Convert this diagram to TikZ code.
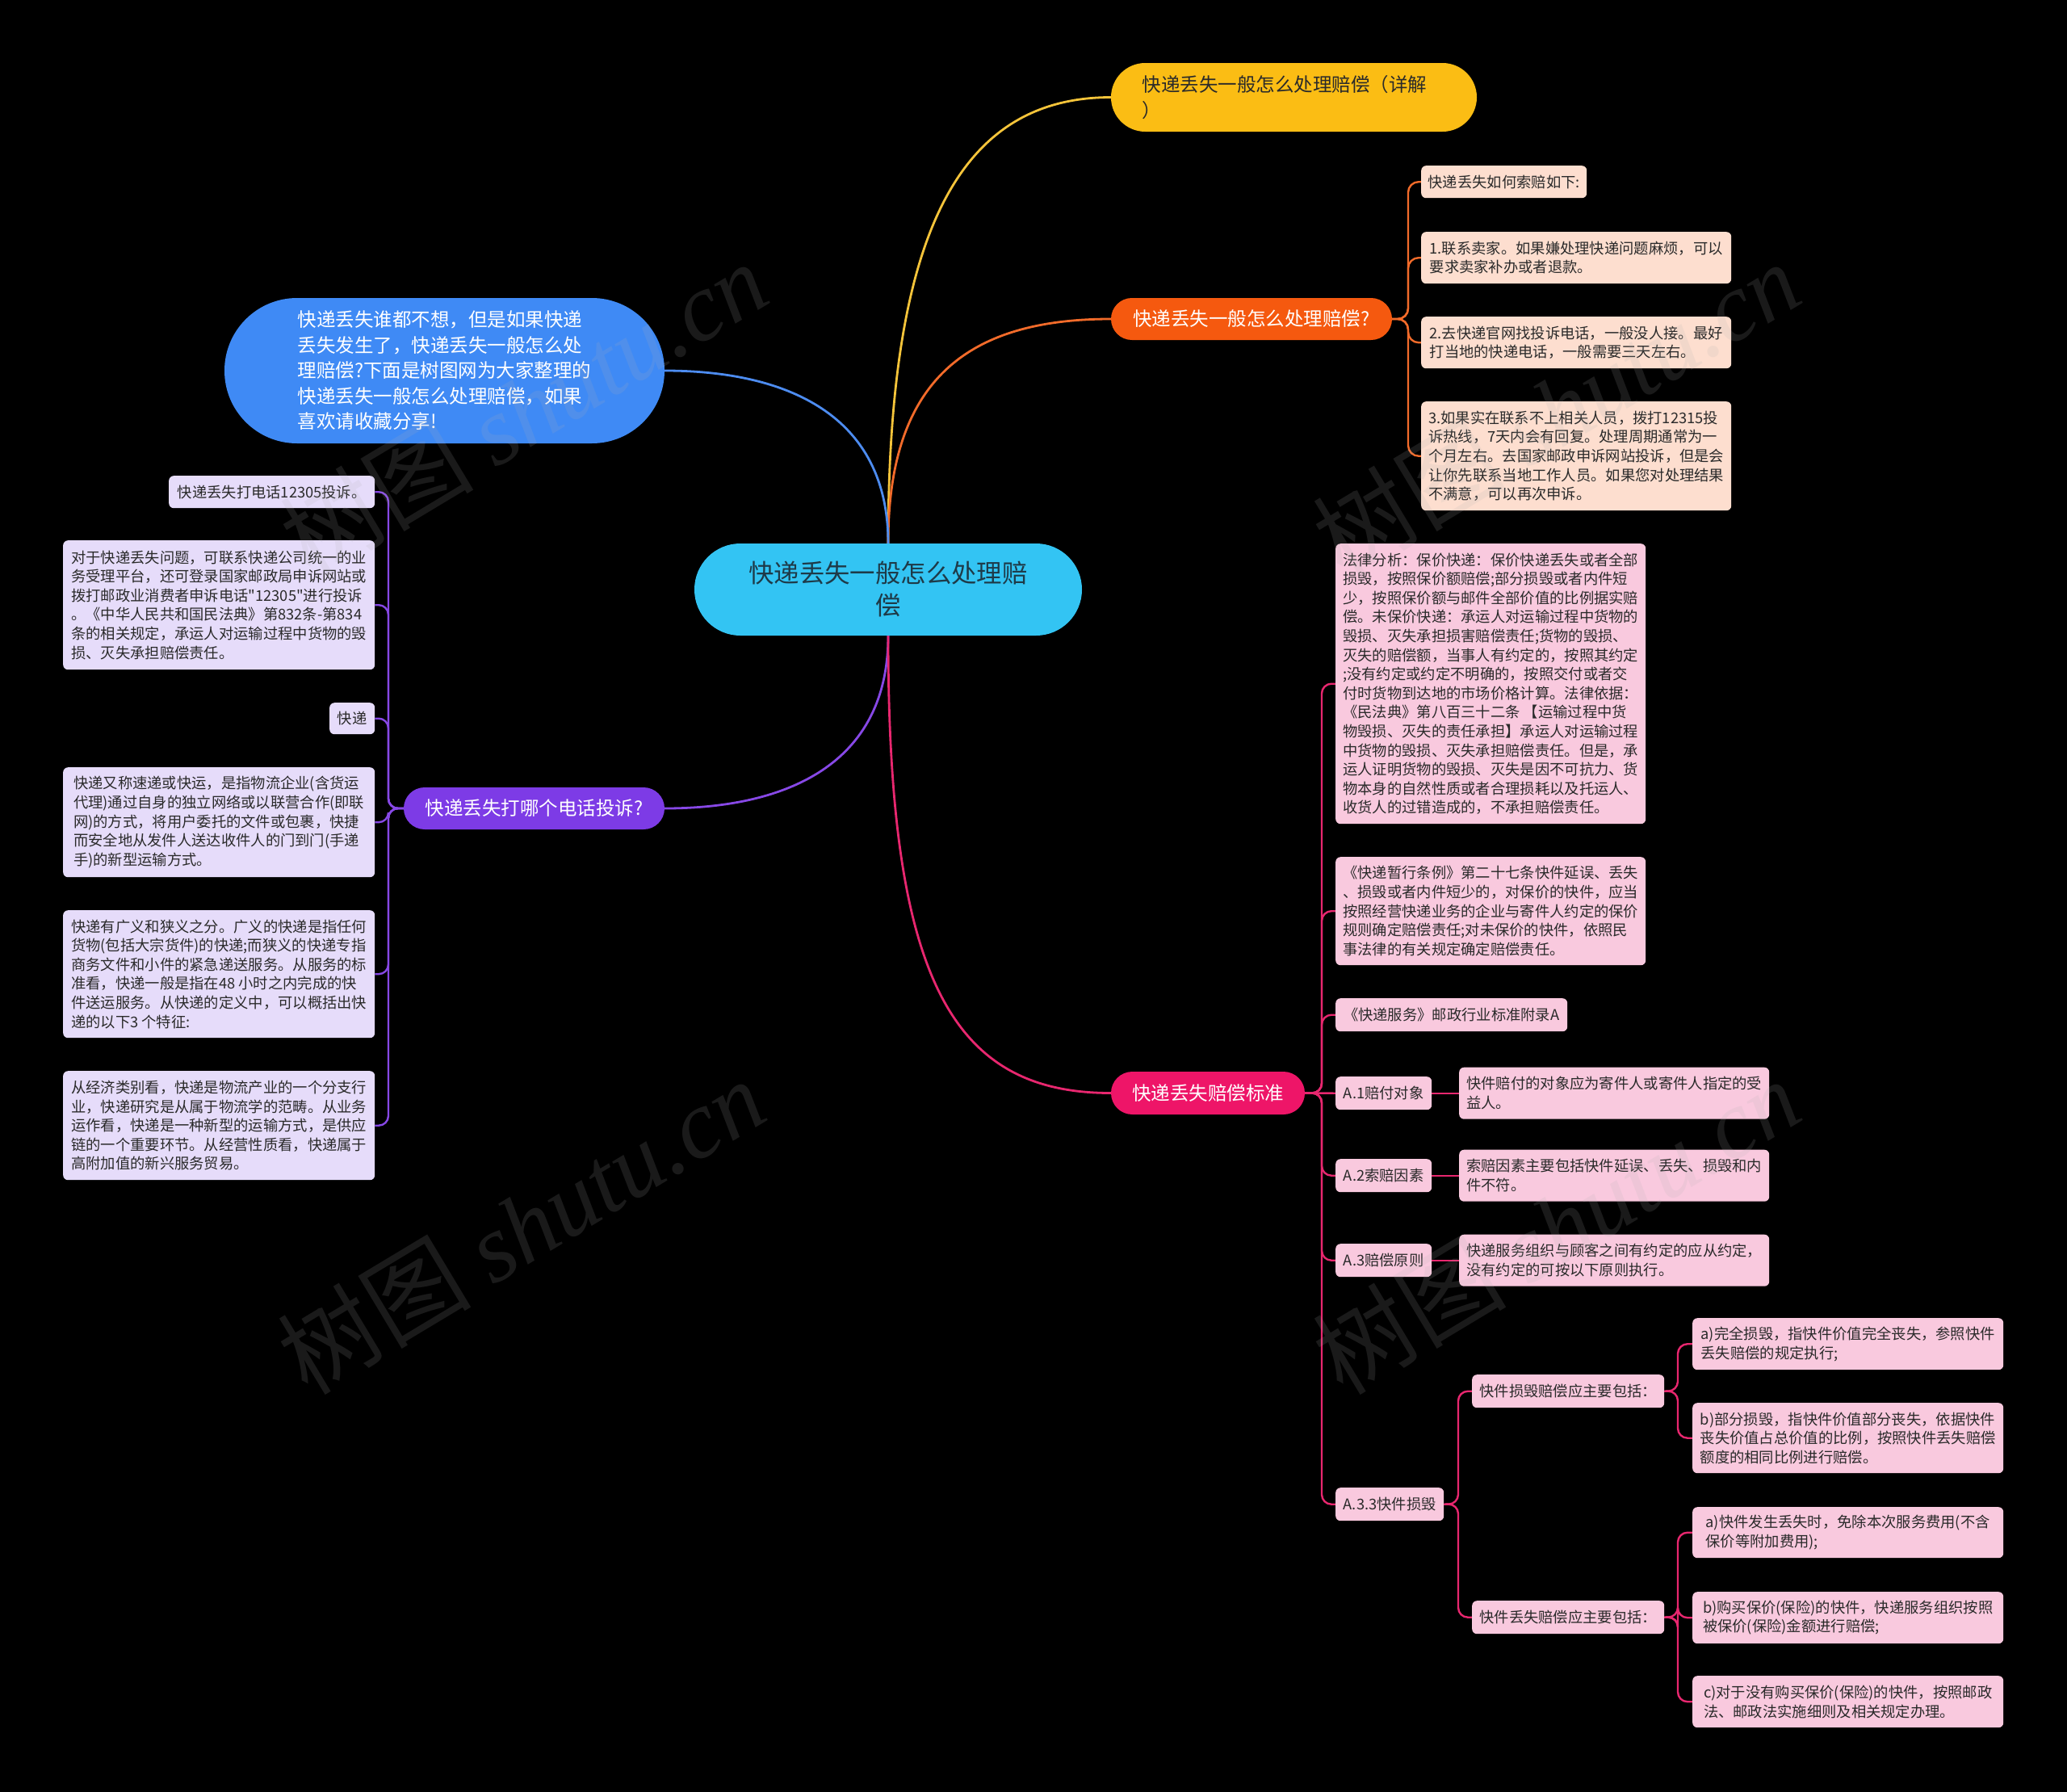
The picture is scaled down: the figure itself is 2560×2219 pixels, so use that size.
\documentclass[tikz,border=0pt]{standalone}
\usepackage{fontspec}
\setmainfont{Noto Sans CJK SC}[Ligatures=TeXOff]
\newfontfamily\wmlatin{Liberation Serif}
\definecolor{cCtr}{HTML}{33C4F3}
\definecolor{cCtrTxt}{HTML}{1E3A48}
\definecolor{cBlue}{HTML}{3F8AF5}
\definecolor{cYel}{HTML}{FBBD14}
\definecolor{cOr}{HTML}{F5590F}
\definecolor{cPu}{HTML}{7D3BE6}
\definecolor{cPk}{HTML}{EE1568}
\definecolor{cPeach}{HTML}{FDDECF}
\definecolor{cLav}{HTML}{E6DCFA}
\definecolor{cLpk}{HTML}{F9C9DE}
\definecolor{cTxt}{HTML}{2A2A2A}
\definecolor{lYel}{HTML}{F5C43A}
\definecolor{lOr}{HTML}{F26B2A}
\definecolor{lBlue}{HTML}{4D8CF0}
\definecolor{lPu}{HTML}{8748E6}
\definecolor{lPk}{HTML}{E8276F}
\newcommand\myfs{\fontsize{18.3}{23.6}\selectfont}
\newcommand\mybr{\fontsize{23.5}{31.5}\selectfont}
\newcommand\myctr{\fontsize{31.4}{40}\selectfont}
\newcommand\mywm{\fontsize{120}{130}\selectfont}
\pgfdeclarelayer{bg}
\pgfsetlayers{bg,main}
\tikzset{
  leafbase/.style={rounded corners=6pt, inner sep=0pt, align=left, font=\myfs, text=cTxt, anchor=north west},
  orleaf/.style={leafbase, fill=cPeach},
  puleaf/.style={leafbase, fill=cLav},
  pkleaf/.style={leafbase, fill=cLpk},
  branch/.style={inner sep=0pt, font=\mybr, text=white, align=center},
  mainline/.style={line width=2.8pt},
  orline/.style={line width=2.4pt, draw=lOr, rounded corners=13pt},
  puline/.style={line width=2.4pt, draw=lPu, rounded corners=12pt},
  pkline/.style={line width=2.4pt, draw=lPk, rounded corners=12pt},
  wmark/.style={rotate=31, text=gray!60, text opacity=0.15, font=\mywm, inner sep=0pt}
}
\begin{document}
\begin{tikzpicture}[x=1pt,y=-1pt]
\begin{pgfonlayer}{bg}
\fill[black] (0,0) rectangle (2560,2219);
\end{pgfonlayer}
\useasboundingbox (0,0) rectangle (2560,2219);

% central and branch nodes
\node[fill=cCtr, rounded corners=56.9pt, minimum width=480pt, minimum height=114pt, inner sep=0pt, font=\myctr, text=cCtrTxt, align=center] (cn) at (1100,730) {快递丢失一般怎么处理赔\\偿};
\node[fill=cBlue, rounded corners=89.9pt, minimum width=545pt, minimum height=180pt, inner sep=0pt, font=\mybr, text=white, align=left] (bn) at (550.5,459) {快递丢失谁都不想，但是如果快递\\丢失发生了，快递丢失一般怎么处\\理赔偿?下面是树图网为大家整理的\\快递丢失一般怎么处理赔偿，如果\\喜欢请收藏分享!};
\node[fill=cYel, rounded corners=42.4pt, minimum height=85pt, inner xsep=38.5pt, inner ysep=0pt, text width=376pt, font=\mybr, text=cTxt, align=left] (yn) at (1602.5,120.5) {快递丢失一般怎么处理赔偿（详解\\）};
\node[branch, fill=cOr, rounded corners=25.9pt, minimum width=348pt, minimum height=52pt] (on) at (1550,395) {快递丢失一般怎么处理赔偿?};
\node[branch, fill=cPu, rounded corners=25.9pt, minimum width=323pt, minimum height=52pt] (pn) at (661.5,1001) {快递丢失打哪个电话投诉?};
\node[branch, fill=cPk, rounded corners=26.4pt, minimum width=240pt, minimum height=53pt] (kn) at (1496,1353.5) {快递丢失赔偿标准};

% orange children
\node[orleaf, minimum width=205pt, minimum height=40pt] (o1) at (1760,205) {快递丢失如何索赔如下:};
\node[orleaf, minimum width=384pt, minimum height=64pt] (o2) at (1760,287) {1.联系卖家。如果嫌处理快递问题麻烦，可以\\要求卖家补办或者退款。};
\node[orleaf, minimum width=384pt, minimum height=64pt] (o3) at (1760,392) {2.去快递官网找投诉电话，一般没人接。最好\\打当地的快递电话，一般需要三天左右。};
\node[orleaf, minimum width=384pt, minimum height=135pt] (o4) at (1760,497) {3.如果实在联系不上相关人员，拨打12315投\\诉热线，7天内会有回复。处理周期通常为一\\个月左右。去国家邮政申诉网站投诉，但是会\\让你先联系当地工作人员。如果您对处理结果\\不满意，可以再次申诉。};

% purple children
\node[puleaf, minimum width=255pt, minimum height=40pt] (p1) at (209,589) {快递丢失打电话12305投诉。};
\node[puleaf, minimum width=386pt, minimum height=160pt] (p2) at (78,669) {对于快递丢失问题，可联系快递公司统一的业\\务受理平台，还可登录国家邮政局申诉网站或\\拨打邮政业消费者申诉电话"12305"进行投诉\\。《中华人民共和国民法典》第832条-第834\\条的相关规定，承运人对运输过程中货物的毁\\损、灭失承担赔偿责任。};
\node[puleaf, minimum width=56pt, minimum height=39pt] (p3) at (408,870) {快递};
\node[puleaf, minimum width=386pt, minimum height=136pt] (p4) at (78,950) {快递又称速递或快运，是指物流企业(含货运\\代理)通过自身的独立网络或以联营合作(即联\\网)的方式，将用户委托的文件或包裹，快捷\\而安全地从发件人送达收件人的门到门(手递\\手)的新型运输方式。};
\node[puleaf, minimum width=386pt, minimum height=158pt] (p5) at (78,1127) {快递有广义和狭义之分。广义的快递是指任何\\货物(包括大宗货件)的快递;而狭义的快递专指\\商务文件和小件的紧急递送服务。从服务的标\\准看，快递一般是指在48 小时之内完成的快\\件送运服务。从快递的定义中，可以概括出快\\递的以下3 个特征:};
\node[puleaf, minimum width=386pt, minimum height=135pt] (p6) at (78,1326) {从经济类别看，快递是物流产业的一个分支行\\业，快递研究是从属于物流学的范畴。从业务\\运作看，快递是一种新型的运输方式，是供应\\链的一个重要环节。从经营性质看，快递属于\\高附加值的新兴服务贸易。};

% pink children
\node[pkleaf, minimum width=384pt, minimum height=347pt] (k1) at (1654,673) {法律分析：保价快递：保价快递丢失或者全部\\损毁，按照保价额赔偿;部分损毁或者内件短\\少，按照保价额与邮件全部价值的比例据实赔\\偿。未保价快递：承运人对运输过程中货物的\\毁损、灭失承担损害赔偿责任;货物的毁损、\\灭失的赔偿额，当事人有约定的，按照其约定\\;没有约定或约定不明确的，按照交付或者交\\付时货物到达地的市场价格计算。法律依据：\\《民法典》第八百三十二条 【运输过程中货\\物毁损、灭失的责任承担】承运人对运输过程\\中货物的毁损、灭失承担赔偿责任。但是，承\\运人证明货物的毁损、灭失是因不可抗力、货\\物本身的自然性质或者合理损耗以及托运人、\\收货人的过错造成的，不承担赔偿责任。};
\node[pkleaf, minimum width=384pt, minimum height=134pt] (k2) at (1654,1061) {《快递暂行条例》第二十七条快件延误、丢失\\、损毁或者内件短少的，对保价的快件，应当\\按照经营快递业务的企业与寄件人约定的保价\\规则确定赔偿责任;对未保价的快件，依照民\\事法律的有关规定确定赔偿责任。};
\node[pkleaf, minimum width=287pt, minimum height=41pt] (k3) at (1654,1236) {《快递服务》邮政行业标准附录A};
\node[pkleaf, minimum width=119pt, minimum height=41pt] (a1) at (1654,1333) {A.1赔付对象};
\node[pkleaf, minimum width=384pt, minimum height=64pt] (a1c) at (1807,1321.5) {快件赔付的对象应为寄件人或寄件人指定的受\\益人。};
\node[pkleaf, minimum width=119pt, minimum height=41pt] (a2) at (1654,1435) {A.2索赔因素};
\node[pkleaf, minimum width=384pt, minimum height=64pt] (a2c) at (1807,1423.5) {索赔因素主要包括快件延误、丢失、损毁和内\\件不符。};
\node[pkleaf, minimum width=119pt, minimum height=41pt] (a3) at (1654,1540) {A.3赔偿原则};
\node[pkleaf, minimum width=384pt, minimum height=64pt] (a3c) at (1807,1528.5) {快递服务组织与顾客之间有约定的应从约定，\\没有约定的可按以下原则执行。};
\node[pkleaf, minimum width=134pt, minimum height=41pt] (a33) at (1654,1842) {A.3.3快件损毁};
\node[pkleaf, minimum width=238pt, minimum height=41pt] (d1) at (1823,1702) {快件损毁赔偿应主要包括：};
\node[pkleaf, minimum width=238pt, minimum height=41pt] (d2) at (1823,1982) {快件丢失赔偿应主要包括：};
\node[pkleaf, minimum width=385pt, minimum height=64pt] (d1a) at (2096,1632) {a)完全损毁，指快件价值完全丧失，参照快件\\丢失赔偿的规定执行;};
\node[pkleaf, minimum width=385pt, minimum height=87pt] (d1b) at (2096,1737) {b)部分损毁，指快件价值部分丧失，依据快件\\丧失价值占总价值的比例，按照快件丢失赔偿\\额度的相同比例进行赔偿。};
\node[pkleaf, minimum width=385pt, minimum height=63pt] (d2a) at (2096,1866) {a)快件发生丢失时，免除本次服务费用(不含\\保价等附加费用);};
\node[pkleaf, minimum width=385pt, minimum height=64pt] (d2b) at (2096,1971) {b)购买保价(保险)的快件，快递服务组织按照\\被保价(保险)金额进行赔偿;};
\node[pkleaf, minimum width=385pt, minimum height=64pt] (d2c) at (2096,2075) {c)对于没有购买保价(保险)的快件，按照邮政\\法、邮政法实施细则及相关规定办理。};

% bracket junctions
\coordinate (obx) at (1744,395);
\coordinate (pbx) at (481,1001);
\coordinate (kbx) at (1637,1353.5);
\coordinate (dbx) at (1806,1862.5);
\coordinate (d1bx) at (2078,1722.5);
\coordinate (d2bx) at (2078,2002.5);

\begin{pgfonlayer}{bg}
% main connectors
\draw[mainline, draw=lYel] (cn.north) .. controls +(0,-380) and +(-190,0) .. (yn.west);
\draw[mainline, draw=lOr] (cn.north) .. controls +(0,-200) and +(-180,0) .. (on.west);
\draw[mainline, draw=lBlue] (cn.north) .. controls +(0,-160) and +(150,0) .. (bn.east);
\draw[mainline, draw=lPu] (cn.south) .. controls +(0,160) and +(150,0) .. (pn.east);
\draw[mainline, draw=lPk] (cn.south) .. controls +(0,420) and +(-200,0) .. (kn.west);
% orange bracket
\foreach \c in {o1,o2,o3,o4}{\draw[orline] (on.east) -- (obx) |- (\c.west);}
% purple bracket
\foreach \c in {p1,p2,p3,p4,p5,p6}{\draw[puline] (pn.west) -- (pbx) |- (\c.east);}
% pink bracket
\foreach \c in {k1,k2,k3,a2,a3,a33}{\draw[pkline] (kn.east) -- (kbx) |- (\c.west);}
\draw[pkline] (kn.east) -- (a1.west);
\draw[pkline] (a1.east) -- (a1c.west);
\draw[pkline] (a2.east) -- (a2c.west);
\draw[pkline] (a3.east) -- (a3c.west);
\foreach \c in {d1,d2}{\draw[pkline] (a33.east) -- (dbx) |- (\c.west);}
\foreach \c in {d1a,d1b}{\draw[pkline] (d1.east) -- (d1bx) |- (\c.west);}
\foreach \c in {d2a,d2b,d2c}{\draw[pkline] (d2.east) -- (d2bx) |- (\c.west);}
\end{pgfonlayer}

% watermarks
\node[wmark] (wm1) at (648,506) {树图 {\wmlatin\itshape shutu.cn}};
\node[wmark] (wm2) at (645,1518) {树图 {\wmlatin\itshape shutu.cn}};
\node[wmark] (wm3) at (1927,506) {树图 {\wmlatin\itshape shutu.cn}};
\node[wmark] (wm4) at (1927,1518) {树图 {\wmlatin\itshape shutu.cn}};
\end{tikzpicture}
\end{document}
